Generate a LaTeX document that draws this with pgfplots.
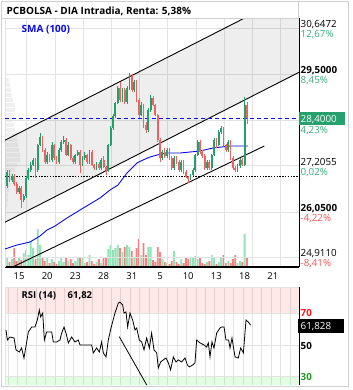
\documentclass[border=0pt]{standalone}
\usepackage{pgfplots}
\pgfplotsset{compat=1.18}
\usepackage{pgfplotstable}
\usepackage{fontspec}
\setmainfont{Open Sans}
\definecolor{upg}{HTML}{22A06B}
\definecolor{dnr}{HTML}{F0625F}
\definecolor{volg}{HTML}{8FE3B4}
\definecolor{volr}{HTML}{F77F7F}
\definecolor{gridc}{HTML}{E3E3E3}
\definecolor{framec}{HTML}{D0D0D0}
\definecolor{smab}{HTML}{0A0AF0}
\definecolor{lblg}{HTML}{3BAE7C}
\definecolor{lblr}{HTML}{F25555}
\definecolor{boxg}{HTML}{26A16E}
\definecolor{rsig}{HTML}{1E9E1E}
\definecolor{rsir}{HTML}{FF1A1A}

% up candles: t open high low close volume
\pgfplotstableread{
t o h l c v
-1.25 26.70 27.10 26.65 27.05 10
-0.75 26.85 27.00 26.80 26.95 8
0.00 26.55 26.70 26.50 26.65 9
0.50 26.35 26.50 26.30 26.45 14
0.75 26.45 26.95 26.40 26.90 17
1.00 26.90 27.15 26.85 27.10 12
1.25 27.10 27.30 27.05 27.225 26
1.50 27.225 27.40 27.20 27.35 19
2.00 27.10 27.75 27.05 27.725 38
2.25 27.725 28.025 27.70 27.925 22
3.00 27.30 27.55 27.25 27.475 9
3.50 27.35 27.80 27.30 27.725 8
4.25 27.30 27.65 27.25 27.60 6
4.50 27.60 27.85 27.55 27.80 9
4.75 27.80 27.95 27.75 27.85 5
5.25 27.475 27.80 27.45 27.725 6
6.00 27.30 27.50 27.25 27.475 6
6.25 27.475 27.60 27.45 27.55 9
6.75 27.225 27.45 27.20 27.40 10
7.00 27.40 27.55 27.35 27.475 4
7.50 27.30 27.60 27.25 27.55 12
8.25 27.15 27.30 27.10 27.25 5
8.75 27.15 27.40 27.10 27.35 4
9.50 27.10 27.75 27.05 27.725 18
9.75 27.725 28.20 27.70 28.15 22
10.00 28.15 28.50 28.10 28.45 17
10.25 28.45 28.80 28.40 28.775 19
10.50 28.775 29.20 28.75 29.15 22
11.00 28.85 29.15 28.80 29.10 15
11.50 28.80 29.20 28.75 29.15 22
11.75 29.15 29.525 29.10 29.45 20
12.25 29.10 29.35 29.05 29.30 10
13.00 28.475 28.80 28.45 28.725 12
13.75 28.10 28.65 28.05 28.60 20
14.00 28.60 28.975 28.55 28.90 20
15.25 27.40 27.60 27.35 27.55 8
15.75 27.45 27.65 27.40 27.60 4
16.50 27.15 27.45 27.10 27.40 16
17.25 27.10 27.35 27.05 27.30 8
18.25 26.90 27.00 26.85 26.975 9
18.50 26.975 27.15 26.95 27.10 10
18.75 27.10 27.50 27.05 27.475 11
19.00 27.475 27.85 27.45 27.80 8
20.00 27.15 27.35 27.10 27.30 5
20.50 27.15 27.50 27.10 27.475 12
20.75 27.475 27.90 27.45 27.85 10
21.25 27.725 28.10 27.70 28.05 5
21.50 28.05 28.20 28.00 28.15 10
22.25 27.60 27.85 27.55 27.80 6
23.25 27.10 27.25 27.05 27.20 4
23.50 27.20 27.40 27.15 27.35 6
24.00 27.225 28.925 27.20 28.725 33
}\upc

% down candles
\pgfplotstableread{
t o h l c v
-1.00 27.05 27.10 26.80 26.85 5
-0.50 26.95 27.00 26.70 26.75 19
-0.25 26.75 26.80 26.50 26.55 6
0.25 26.65 26.70 26.15 26.35 7
1.75 27.35 27.40 26.90 27.10 8
2.50 27.925 27.95 27.55 27.60 9
2.75 27.60 27.65 27.25 27.30 6
3.25 27.475 27.50 27.30 27.35 4
3.75 27.725 27.75 27.35 27.40 5
4.00 27.40 27.45 27.25 27.30 3
5.00 27.85 27.90 27.45 27.475 9
5.50 27.725 27.75 27.35 27.40 8
5.75 27.40 27.45 27.25 27.30 4
6.50 27.55 27.60 27.025 27.225 9
7.25 27.475 27.50 27.25 27.30 5
7.75 27.55 27.60 27.20 27.225 6
8.00 27.225 27.25 27.10 27.15 3
8.50 27.25 27.30 27.10 27.15 8
9.00 27.35 27.45 27.15 27.175 9
9.25 27.175 27.20 26.975 27.10 10
10.75 29.15 29.30 28.80 28.85 19
11.25 29.10 29.15 28.75 28.80 20
12.00 29.45 29.50 29.05 29.10 16
12.50 29.30 29.35 28.80 28.85 19
12.75 28.85 28.90 28.40 28.475 28
13.25 28.725 28.75 28.15 28.225 24
13.50 28.225 28.30 28.025 28.10 12
14.25 28.90 28.95 28.70 28.725 7
14.50 28.725 28.75 28.45 28.475 5
14.75 28.475 28.50 27.80 27.85 20
15.00 27.85 27.90 27.30 27.40 15
15.50 27.55 27.65 27.40 27.45 5
16.00 27.60 27.65 27.35 27.40 3
16.25 27.40 27.45 27.10 27.15 6
16.75 27.40 27.45 27.25 27.30 5
17.00 27.30 27.35 27.05 27.10 3
17.50 27.30 27.35 27.00 27.05 4
17.75 27.05 27.10 26.90 26.925 9
18.00 26.925 26.95 26.775 26.90 8
19.25 27.80 27.85 27.50 27.55 9
19.50 27.55 27.60 27.40 27.45 4
19.75 27.45 27.50 27.10 27.15 3
20.25 27.30 27.35 27.10 27.15 6
21.00 27.85 27.90 27.65 27.725 3
21.75 28.15 28.175 27.70 27.725 12
22.00 27.725 27.75 27.55 27.60 4
22.50 27.80 27.85 27.35 27.40 4
22.75 27.40 27.45 27.10 27.15 8
23.00 27.15 27.20 27.05 27.10 12
23.75 27.35 27.40 27.20 27.225 5
24.25 28.725 28.80 28.25 28.40 10
}\dnc

% volume profile: price, width
\pgfplotstableread{
p w
29.35 4
29.225 5
29.10 6
28.975 7
28.85 8
28.725 10
28.60 10
28.475 7
28.35 8
28.225 9
28.10 10
27.975 12
27.85 12
27.725 13
27.60 14
27.475 15
27.35 15
27.225 12
27.10 10
26.975 8
26.85 6
26.725 5
26.60 4
26.475 3
26.35 3
26.225 2
}\profile

\begin{document}
\begin{tikzpicture}
\useasboundingbox (0,0) rectangle (353bp,-390bp);
\fill[white] (0,0) rectangle (353bp,-390bp);
\draw[framec, line width=0.8bp] (1bp,-1bp) rectangle (348.5bp,-386bp);

% volume profile
\begin{axis}[at={(5bp,-18bp)}, anchor=north west, scale only axis,
  width=294bp, height=249bp, xmin=0, xmax=294, ymin=24.675, ymax=30.90,
  hide axis, xbar, bar width=4bp, bar shift=0pt]
\addplot[fill=black!6, draw=none] table[x=w, y=p] \profile;
\end{axis}

% volume
\begin{axis}[at={(5bp,-18bp)}, anchor=north west, scale only axis,
  width=294bp, height=249bp, xmin=-1.489, xmax=29.787, ymin=0, ymax=249,
  hide axis, ybar, bar width=1.8bp, bar shift=0pt]
\addplot[fill=volg, draw=none] table[x=t, y=v] \upc;
\addplot[fill=volr, draw=none] table[x=t, y=v] \dnc;
\end{axis}

% price
\begin{axis}[at={(5bp,-18bp)}, anchor=north west, scale only axis,
  width=294bp, height=249bp,
  xmin=-1.489, xmax=29.787, ymin=24.675, ymax=30.90,
  axis x line*=bottom, axis y line*=right,
  x axis line style={black, line width=1.2bp, -},
  y axis line style={black, line width=0.9bp, -},
  xtick={0.82,3.82,6.82,9.82,12.82,15.82,18.82,21.82,24.82,27.82},
  xticklabels={15,20,23,28,31,5,10,13,18,21},
  xticklabel style={xshift=-7.7bp, yshift=-2bp, font=\fontsize{9.5bp}{11bp}\selectfont},
  ytick={24.911,26.05,27.2055,28.3506,29.5,30.6472}, yticklabels={},
  major tick length=0pt, grid=major, grid style={gridc, line width=0.7bp}]
\draw[gridc, line width=0.7bp] (rel axis cs:0,0) -- (rel axis cs:0,1);
% regression channel
\addplot[draw=none, fill=black, fill opacity=0.065] coordinates
  {(-1.489,27.845) (29.787,31.593) (29.787,29.543) (-1.489,25.794)} -- cycle;
\addplot[black, line width=0.9bp] coordinates {(-1.489,27.845) (29.787,31.593)};
\addplot[black, line width=0.9bp] coordinates {(-1.489,25.794) (29.787,29.543)};
\addplot[black, line width=0.9bp] coordinates {(-0.606,24.6825) (26.10,27.70)};
% reference lines
\addplot[black, line width=0.8bp, dash pattern=on 1.3bp off 1.5bp] coordinates {(-1.489,26.95) (29.787,26.95)};
\addplot[smab, line width=0.9bp, dash pattern=on 4bp off 3bp] coordinates {(-1.489,28.40) (29.787,28.40)};
% SMA(100)
\addplot[smab, line width=0.9bp] coordinates {
(-1.49,25.125) (-0.21,25.225) (1.17,25.30) (2.23,25.45) (2.98,25.60) (3.83,25.70)
(5.11,25.90) (6.49,26.10) (7.55,26.25) (8.62,26.40) (9.68,26.60) (10.53,26.725)
(11.49,27.025) (12.55,27.275) (13.19,27.35) (13.94,27.425) (14.68,27.475)
(15.74,27.525) (17.13,27.525) (18.19,27.55) (19.26,27.575) (20.64,27.65)
(22.45,27.70) (24.36,27.70)};
% candles: wicks and bodies
\addplot[draw=none, mark=none, error bars/.cd, y dir=both, y explicit, error mark=none,
  error bar style={draw=upg, solid, line width=0.6bp}]
  table[x=t, y expr={(\thisrow{h}+\thisrow{l})/2}, y error expr={(\thisrow{h}-\thisrow{l})/2}] \upc;
\addplot[draw=none, mark=none, error bars/.cd, y dir=both, y explicit, error mark=none,
  error bar style={draw=dnr, solid, line width=0.6bp}]
  table[x=t, y expr={(\thisrow{h}+\thisrow{l})/2}, y error expr={(\thisrow{h}-\thisrow{l})/2}] \dnc;
\addplot[draw=none, mark=none, error bars/.cd, y dir=both, y explicit, error mark=none,
  error bar style={draw=upg, solid, line width=1.8bp}]
  table[x=t, y expr={(\thisrow{o}+\thisrow{c})/2}, y error expr={abs(\thisrow{c}-\thisrow{o})/2}] \upc;
\addplot[draw=none, mark=none, error bars/.cd, y dir=both, y explicit, error mark=none,
  error bar style={draw=dnr, solid, line width=1.8bp}]
  table[x=t, y expr={(\thisrow{o}+\thisrow{c})/2}, y error expr={abs(\thisrow{c}-\thisrow{o})/2}] \dnc;
\end{axis}

% RSI
\begin{axis}[at={(5bp,-287bp)}, anchor=north west, scale only axis,
  width=294bp, height=98bp,
  xmin=-1.489, xmax=29.787, ymin=24.8, ymax=86.5,
  axis x line*=bottom, axis y line*=right,
  x axis line style={draw=none},
  y axis line style={black, line width=0.9bp, -},
  xtick={-1.18,-0.18,0.82,1.82,2.82,3.82,4.82,5.82,6.82,7.82,8.82,9.82,10.82,11.82,12.82,13.82,14.82,15.82,16.82,17.82,18.82,19.82,20.82,21.82,22.82,23.82,24.82,25.82,26.82,27.82,28.82},
  xticklabels={}, ytick={30,50,70}, yticklabels={},
  major tick length=0pt, grid=major, grid style={gridc, line width=0.7bp}]
\fill[red, fill opacity=0.09] (axis cs:-1.489,70) rectangle (axis cs:29.787,86.5);
\fill[green, fill opacity=0.11] (axis cs:-1.489,24.8) rectangle (axis cs:29.787,30);
\draw[gridc, line width=0.7bp] (rel axis cs:0,0) -- (rel axis cs:0,1) -- (rel axis cs:1,1);
\addplot[black, line width=0.8bp] coordinates {
(-1.38,59.4) (-1.24,53.1) (-0.96,55.0) (-0.53,54.4) (-0.32,46.9) (0.04,45.6)
(0.28,48.1) (0.53,41.8) (0.82,51.9) (0.99,58.2) (1.35,61.3) (1.70,61.3)
(1.95,65.7) (2.16,72.0) (2.30,67.6) (2.52,70.1) (2.70,53.1) (2.94,58.2)
(3.48,58.2) (3.65,51.9) (4.01,51.9) (4.36,53.1) (4.54,57.5) (4.79,61.3)
(5.00,57.5) (5.25,51.3) (5.60,55.0) (5.96,51.9) (6.31,53.1) (6.49,50.0)
(7.02,50.0) (7.38,50.0) (7.73,50.0) (7.91,45.0) (8.26,48.1) (8.55,45.6)
(8.79,51.9) (8.97,45.0) (9.26,42.5) (9.50,53.1) (9.79,60.7) (10.21,70.1)
(10.57,76.4) (10.74,77.0) (11.03,75.2) (11.17,70.1) (11.38,70.8) (11.56,61.3)
(11.81,70.1) (12.09,65.7) (12.34,59.4) (12.52,60.7) (12.80,53.1) (13.05,51.9)
(13.30,46.9) (13.58,54.4) (13.87,48.1) (14.11,57.5) (14.36,46.9) (14.65,45.0)
(14.82,35.5) (15.07,39.3) (15.35,40.6) (15.64,41.8) (15.89,38.7) (16.13,34.3)
(16.42,42.5) (16.70,39.3) (16.95,40.6) (17.30,39.3) (17.66,41.8) (17.91,37.4)
(18.12,36.2) (18.48,37.4) (18.72,38.7) (18.90,53.1) (19.26,51.3) (19.68,50.0)
(19.96,48.7) (20.14,51.3) (20.32,42.5) (20.53,51.9) (20.74,48.1) (21.03,57.5)
(21.38,60.7) (21.56,61.3) (21.81,61.3) (22.02,53.1) (22.30,53.1) (22.45,48.1)
(22.66,54.4) (22.98,42.5) (23.33,41.8) (23.58,48.1) (23.87,45.0) (24.15,65.7)
(24.40,64.4) (24.65,62.5)};
\addplot[black, line width=0.8bp] coordinates {(10.67,55.2) (13.59,24.8)};
\end{axis}

% title and labels
\filldraw[fill=white, draw=framec, line width=0.8bp] (1bp,-1bp) rectangle (298bp,-18bp);
\node[anchor=base west, inner sep=0pt, font=\fontsize{10bp}{12bp}\selectfont\bfseries] at (6.5bp,-14bp) {PCBOLSA - DIA Intradia, Renta: 5,38\%};
\node[anchor=base west, inner sep=0pt, text=smab, font=\fontsize{10bp}{12bp}\selectfont\bfseries] at (21.5bp,-32bp) {SMA (100)};

\begin{scope}[every node/.style={anchor=base west, inner sep=0pt, font=\fontsize{9.8bp}{11bp}\selectfont}]
\node at (300.5bp,-27bp) {30,6472};
\node[text=lblg] at (300.5bp,-37bp) {12,67\%};
\node[font=\fontsize{9.8bp}{11bp}\selectfont\bfseries] at (300.5bp,-73bp) {29,5000};
\node[text=lblg] at (300.5bp,-83bp) {8,45\%};
\node[text=lblg] at (300.5bp,-133bp) {4,23\%};
\node at (300.5bp,-165bp) {27,2055};
\node[text=lblg] at (300.5bp,-175bp) {0,02\%};
\node[font=\fontsize{9.8bp}{11bp}\selectfont\bfseries] at (300.5bp,-211bp) {26,0500};
\node[text=lblr] at (300.5bp,-221bp) {-4,22\%};
\node at (300.5bp,-256.6bp) {24,9110};
\node[text=lblr] at (300.5bp,-266.6bp) {-8,41\%};
\end{scope}
\fill[boxg] (299bp,-112bp) rectangle (345bp,-124.5bp);
\node[anchor=base west, inner sep=0pt, text=white, font=\fontsize{9.8bp}{11bp}\selectfont] at (300.5bp,-122bp) {28,4000};

% RSI labels
\node[anchor=base west, inner sep=0pt, font=\fontsize{9.5bp}{11bp}\selectfont\bfseries] at (21.5bp,-298.5bp) {RSI (14)};
\node[anchor=base west, inner sep=0pt, font=\fontsize{9.5bp}{11bp}\selectfont\bfseries] at (67.5bp,-298.5bp) {61,82};
\node[anchor=base west, inner sep=0pt, text=rsir, font=\fontsize{9.8bp}{11bp}\selectfont\bfseries] at (300.5bp,-316.5bp) {70};
\node[anchor=base west, inner sep=0pt, font=\fontsize{9.8bp}{11bp}\selectfont\bfseries] at (300.5bp,-349.5bp) {50};
\node[anchor=base west, inner sep=0pt, text=rsig, font=\fontsize{9.8bp}{11bp}\selectfont\bfseries] at (300.5bp,-380.5bp) {30};
\fill[black] (298.3bp,-319.3bp) rectangle (344.3bp,-332.7bp);
\node[anchor=base west, inner sep=0pt, text=white, font=\fontsize{9.8bp}{11bp}\selectfont] at (300.5bp,-329.6bp) {61,828};
\end{tikzpicture}
\end{document}
